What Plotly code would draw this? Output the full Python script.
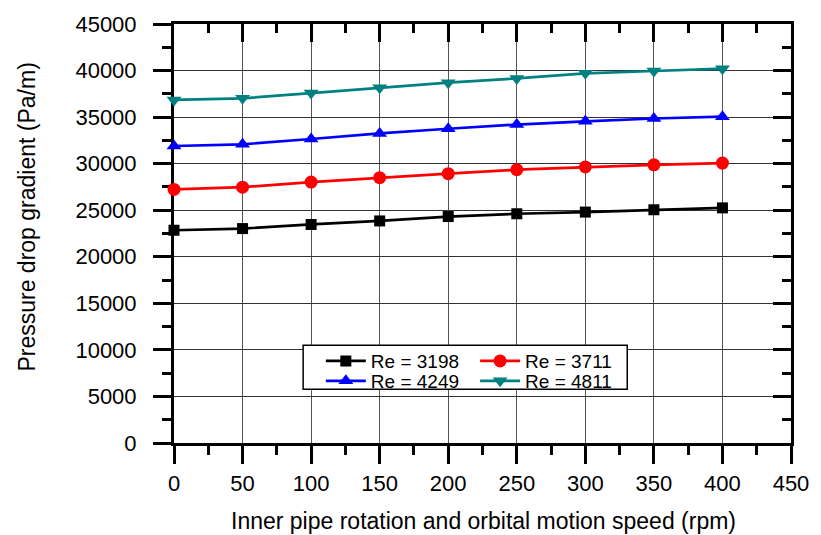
import plotly.graph_objects as go

speed = [0, 50, 100, 150, 200, 250, 300, 350, 400]
re_3198 = [22850, 23030, 23470, 23850, 24320, 24620, 24800, 25050, 25250]
re_3711 = [27230, 27470, 28020, 28500, 28920, 29350, 29650, 29880, 30060]
re_4249 = [31900, 32080, 32650, 33250, 33750, 34200, 34550, 34850, 35050]
re_4811 = [36850, 37020, 37580, 38150, 38700, 39150, 39700, 39950, 40200]

series_names = ["Re = 3198", "Re = 3711", "Re = 4249", "Re = 4811"]
series_values = [re_3198, re_3711, re_4249, re_4811]
series_colors = ["#000000", "#FF0000", "#0000FF", "#008080"]
series_symbols = ["square", "circle", "triangle-up", "triangle-down"]
series_sizes = [11, 13, 13, 13]
legend_ids = ["legend", "legend2", "legend3", "legend4"]

FONT = "Liberation Sans, Arial, sans-serif"

fig = go.Figure()
for name, vals, col, sym, sz, lg in zip(series_names, series_values, series_colors,
                                         series_symbols, series_sizes, legend_ids):
    fig.add_trace(go.Scatter(
        x=speed, y=vals, name=name, mode="lines+markers",
        line=dict(color=col, width=2.7),
        marker=dict(symbol=sym, size=sz, color=col),
        cliponaxis=False, legend=lg,
    ))

# helper trace to activate mirrored top/right axes
fig.add_trace(go.Scatter(x=[None], y=[None], xaxis="x2", yaxis="y2",
                         showlegend=False, hoverinfo="skip"))

tick_font = dict(family=FONT, size=22, color="black")

fig.update_layout(
    width=821, height=535,
    margin=dict(l=173.5, r=19.3, t=23.5, b=92.3),
    paper_bgcolor="white", plot_bgcolor="white",
    font=dict(family=FONT, color="black", size=19),
    xaxis=dict(
        range=[0, 450], dtick=50, tick0=0, tickformat="d",
        showline=True, linewidth=3, linecolor="black",
        ticks="outside", ticklen=18, tickwidth=3, tickcolor="black",
        minor=dict(ticks="outside", ticklen=9, tickwidth=3, tickcolor="black",
                   dtick=25, tick0=0, showgrid=False),
        showgrid=True, gridcolor="#555555", gridwidth=1,
        zeroline=False, tickfont=tick_font, layer="below traces",
        ticklabelstandoff=1,
    ),
    yaxis=dict(
        range=[0, 45000], dtick=5000, tick0=0, tickformat="d",
        showline=True, linewidth=3, linecolor="black",
        ticks="outside", ticklen=18, tickwidth=3, tickcolor="black",
        minor=dict(ticks="outside", ticklen=9, tickwidth=3, tickcolor="black",
                   dtick=2500, tick0=0, showgrid=False),
        showgrid=True, gridcolor="#333333", gridwidth=1,
        zeroline=False, tickfont=tick_font, layer="below traces",
        ticklabelstandoff=12,
    ),
    xaxis2=dict(
        overlaying="x", side="top", anchor="y", range=[0, 450], dtick=50, tick0=0,
        showline=True, linewidth=3, linecolor="black",
        ticks="inside", ticklen=18, tickwidth=3, tickcolor="black",
        minor=dict(ticks="inside", ticklen=9, tickwidth=3, tickcolor="black",
                   dtick=25, tick0=0, showgrid=False),
        showgrid=False, zeroline=False, showticklabels=False,
    ),
    yaxis2=dict(
        overlaying="y", side="right", anchor="x", range=[0, 45000], dtick=5000, tick0=0,
        showline=True, linewidth=3, linecolor="black",
        ticks="inside", ticklen=18, tickwidth=3, tickcolor="black",
        minor=dict(ticks="inside", ticklen=9, tickwidth=3, tickcolor="black",
                   dtick=2500, tick0=0, showgrid=False),
        showgrid=False, zeroline=False, showticklabels=False,
    ),
    showlegend=True,
    shapes=[dict(type="rect", xref="paper", yref="paper",
                 x0=0.2093, x1=0.7346, y0=0.128, y1=0.233,
                 fillcolor="white", line=dict(color="black", width=1.5),
                 layer="above")],
    annotations=[
        dict(text="Pressure drop gradient (Pa/m)", xref="paper", yref="paper",
             x=-0.238, y=0.5384, xanchor="center", yanchor="middle",
             textangle=-90, showarrow=False,
             font=dict(family=FONT, size=23, color="black")),
        dict(text="Inner pipe rotation and orbital motion speed (rpm)",
             xref="paper", yref="paper", x=0.502, y=-0.1868,
             xanchor="center", yanchor="middle", showarrow=False,
             font=dict(family=FONT, size=23, color="black")),
    ],
)

leg_common = dict(xanchor="left", yanchor="middle", bgcolor="rgba(0,0,0,0)",
                  borderwidth=0, itemwidth=40,
                  font=dict(family=FONT, size=19, color="black"))
leg_pos = [(0.238, 0.1956), (0.488, 0.1956), (0.238, 0.148), (0.488, 0.148)]
for lg, (lx, ly) in zip(legend_ids, leg_pos):
    fig.update_layout({lg: dict(x=lx, y=ly, **leg_common)})

fig.write_html("out.html")
